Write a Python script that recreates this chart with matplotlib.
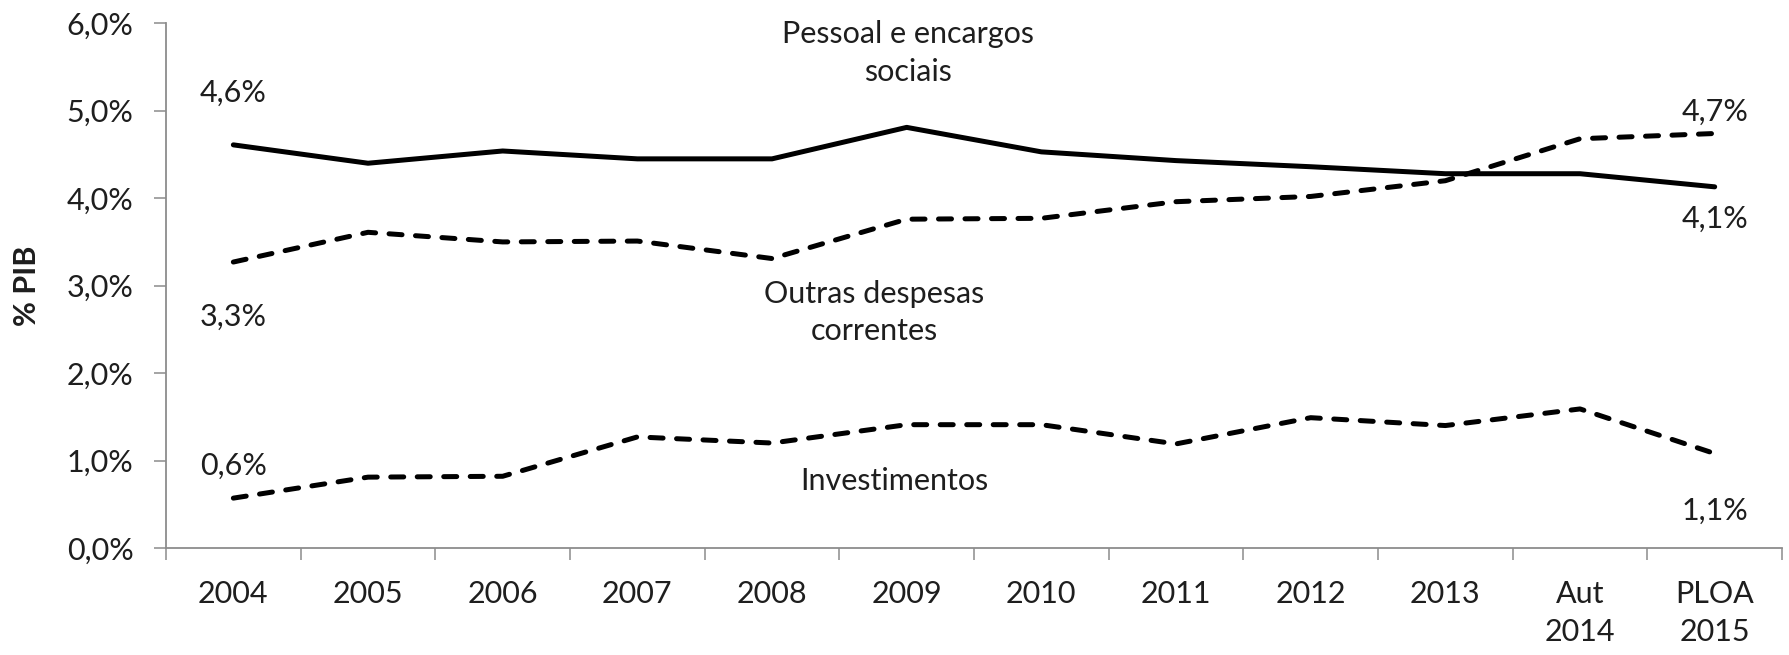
import matplotlib
matplotlib.use("Agg")
import matplotlib.pyplot as plt
from matplotlib.ticker import FixedLocator

plt.rcParams['font.family'] = ['Lato', 'DejaVu Sans']

categorias = ['2004', '2005', '2006', '2007', '2008', '2009', '2010', '2011',
              '2012', '2013', 'Aut\n2014', 'PLOA\n2015']
pessoal = [4.61, 4.40, 4.54, 4.45, 4.45, 4.81, 4.53, 4.43, 4.36, 4.28, 4.28, 4.13]
outras = [3.27, 3.61, 3.50, 3.51, 3.31, 3.76, 3.77, 3.96, 4.02, 4.20, 4.68, 4.74]
investimentos = [0.57, 0.81, 0.82, 1.27, 1.20, 1.41, 1.41, 1.19, 1.49, 1.40, 1.59, 1.08]
yticks = [0, 1, 2, 3, 4, 5, 6]

txt = '#1e1e1e'
grey = '#8c8c8c'
fs = 22

fig = plt.figure(figsize=(17.89, 6.55), dpi=100)
ax = fig.add_axes([0.0928, 0.1634, 0.9033, 0.8010])

x = list(range(len(categorias)))
ax.plot(x, pessoal, color='black', lw=3.6, solid_capstyle='round', solid_joinstyle='round')
dash = (0, (2.6, 2.7))
ax.plot(x, outras, color='black', lw=3.6, linestyle=dash, dash_capstyle='round')
ax.plot(x, investimentos, color='black', lw=3.6, linestyle=dash, dash_capstyle='round')

ax.set_xlim(-0.5, len(categorias) - 0.5)
ax.set_ylim(0, 6)

ax.xaxis.set_major_locator(FixedLocator([i - 0.5 for i in range(len(categorias) + 1)]))
ax.xaxis.set_minor_locator(FixedLocator(x))
ax.set_xticklabels([], minor=False)
ax.set_xticklabels(categorias, minor=True, fontsize=fs, color=txt, linespacing=1.45)
ax.tick_params(axis='x', which='major', length=8.5, width=1.1, color=grey, direction='out')
ax.tick_params(axis='x', which='minor', length=0, pad=23)

ax.set_yticks(yticks)
ax.set_yticklabels([f'{v:.1f}%'.replace('.', ',') for v in yticks], fontsize=fs, color=txt)
ax.tick_params(axis='y', length=8.5, width=1.1, color=grey, pad=15)

for s in ['top', 'right']:
    ax.spines[s].set_visible(False)
for s in ['left', 'bottom']:
    ax.spines[s].set_color(grey)
    ax.spines[s].set_linewidth(1.3)

ax.set_ylabel('% PIB', fontsize=22, fontweight='bold', color=txt)
ax.yaxis.set_label_coords(-0.086, 0.5)
ax.yaxis.label.set_va('center')

# rótulos das séries
ax.text(5.01, 5.66, 'Pessoal e encargos\nsociais', ha='center', va='center',
        fontsize=fs, color=txt, linespacing=1.4)
ax.text(4.76, 2.69, 'Outras despesas\ncorrentes', ha='center', va='center',
        fontsize=fs, color=txt, linespacing=1.4)
ax.text(4.91, 0.77, 'Investimentos', ha='center', va='center', fontsize=fs, color=txt)

# valores inicial e final
def fmt(v):
    return f'{v:.1f}%'.replace('.', ',')

ax.text(0, 5.21, fmt(pessoal[0]), ha='center', va='center', fontsize=fs, color=txt)
ax.text(0, 2.64, fmt(outras[0]), ha='center', va='center', fontsize=fs, color=txt)
ax.text(0, 0.94, fmt(investimentos[0]), ha='center', va='center', fontsize=fs, color=txt)
ax.text(11, 4.99, fmt(outras[-1]), ha='center', va='center', fontsize=fs, color=txt)
ax.text(11, 3.76, fmt(pessoal[-1]), ha='center', va='center', fontsize=fs, color=txt)
ax.text(11, 0.42, fmt(investimentos[-1]), ha='center', va='center', fontsize=fs, color=txt)

fig.savefig('out.png', dpi=100)
